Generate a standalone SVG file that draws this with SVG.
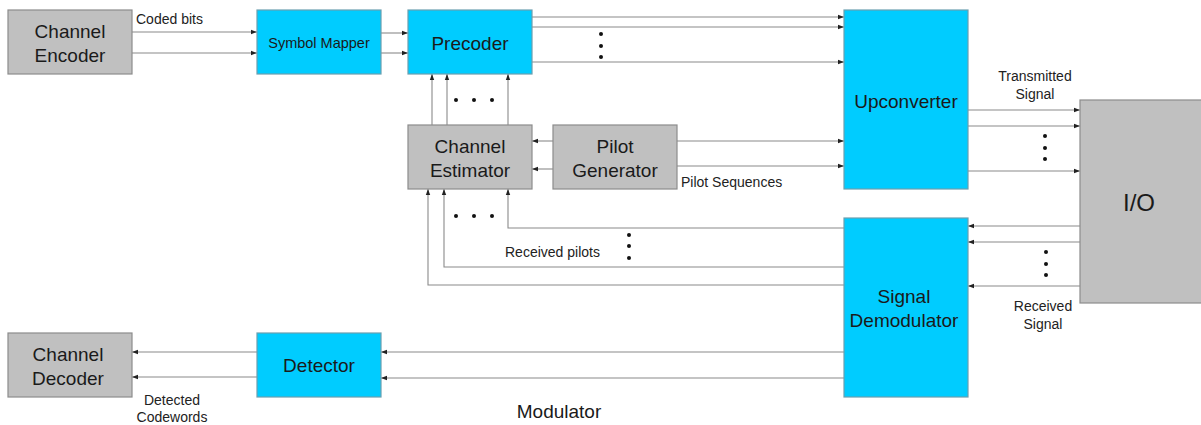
<svg xmlns="http://www.w3.org/2000/svg" width="1201" height="425" viewBox="0 0 1201 425">
<defs>
<marker id="ah" viewBox="0 0 6 6" refX="6" refY="3" markerWidth="6" markerHeight="6" markerUnits="userSpaceOnUse" orient="auto">
<path d="M0,0.8 L6,3 L0,5.2 Z" fill="#222"/>
</marker>
</defs>
<style>
.g{fill:#c0c0c0;stroke:#8c8c8c;stroke-width:1.2}
.c{fill:#00ccff;stroke:#6a9fb0;stroke-width:1.2}
.t{font-family:"Liberation Sans",Arial,sans-serif;fill:#1a1a1a;text-anchor:middle}
.big{font-size:19px}
.lab{font-family:"Liberation Sans",Arial,sans-serif;fill:#222;font-size:14px}
.ln{fill:none;stroke:#8a8a8a;stroke-width:1.1;marker-end:url(#ah)}
.d{fill:#111}
</style>
<rect width="1201" height="425" fill="#fff"/>
<g id="connectors">
<path class="ln" d="M132,32 H257"/>
<path class="ln" d="M132,53 H257"/>
<path class="ln" d="M381,33 H408"/>
<path class="ln" d="M381,53 H408"/>
<path class="ln" d="M532,17 H844"/>
<path class="ln" d="M532,27 H844"/>
<path class="ln" d="M532,62 H844"/>
<path class="ln" d="M432,125 V74"/>
<path class="ln" d="M447,125 V74"/>
<path class="ln" d="M508,125 V74"/>
<path class="ln" d="M553,141 H532"/>
<path class="ln" d="M553,169 H532"/>
<path class="ln" d="M677,141 H844"/>
<path class="ln" d="M677,166 H844"/>
<path class="ln" d="M968,110 H1080"/>
<path class="ln" d="M968,126 H1080"/>
<path class="ln" d="M968,171 H1080"/>
<path class="ln" d="M1080,226 H968"/>
<path class="ln" d="M1080,242 H968"/>
<path class="ln" d="M1080,286 H968"/>
<path class="ln" d="M844,228 H508 V189"/>
<path class="ln" d="M844,267 H444 V189"/>
<path class="ln" d="M844,285 H428 V189"/>
<path class="ln" d="M844,352 H381"/>
<path class="ln" d="M844,378 H381"/>
<path class="ln" d="M257,352 H132"/>
<path class="ln" d="M257,377 H132"/>
<g id="dots">
<circle class="d" cx="601" cy="34" r="2"/><circle class="d" cx="601" cy="46" r="2"/><circle class="d" cx="601" cy="57" r="2"/>
<circle class="d" cx="456" cy="100" r="2"/><circle class="d" cx="474" cy="100" r="2"/><circle class="d" cx="492" cy="100" r="2"/>
<circle class="d" cx="456" cy="216" r="2"/><circle class="d" cx="474" cy="216" r="2"/><circle class="d" cx="492" cy="216" r="2"/>
<circle class="d" cx="629" cy="235" r="2"/><circle class="d" cx="629" cy="246" r="2"/><circle class="d" cx="629" cy="258" r="2"/>
<circle class="d" cx="1045" cy="136" r="2"/><circle class="d" cx="1045" cy="148" r="2"/><circle class="d" cx="1045" cy="159" r="2"/>
<circle class="d" cx="1046" cy="252" r="2"/><circle class="d" cx="1046" cy="264" r="2"/><circle class="d" cx="1046" cy="275" r="2"/>
</g>
</g>
<g id="channel-encoder"><rect class="g" x="8" y="10" width="124" height="64"/><text class="t big" x="70" y="38">Channel</text><text class="t big" x="70" y="62">Encoder</text></g>
<g id="symbol-mapper"><rect class="c" x="257" y="10" width="124" height="64"/><text class="t" x="319" y="48" font-size="14.5">Symbol Mapper</text></g>
<g id="precoder"><rect class="c" x="408" y="10" width="124" height="64"/><text class="t big" x="470" y="50">Precoder</text></g>
<g id="upconverter"><rect class="c" x="844" y="10" width="124" height="179"/><text class="t big" x="906" y="108">Upconverter</text></g>
<g id="channel-estimator"><rect class="g" x="408" y="125" width="124" height="64"/><text class="t big" x="470" y="153">Channel</text><text class="t big" x="470" y="177">Estimator</text></g>
<g id="pilot-generator"><rect class="g" x="553" y="125" width="124" height="64"/><text class="t big" x="615" y="153">Pilot</text><text class="t big" x="615" y="177">Generator</text></g>
<g id="io"><rect class="g" x="1080" y="100" width="122" height="203"/><text class="t" x="1139" y="211" font-size="24">I/O</text></g>
<g id="signal-demodulator"><rect class="c" x="844" y="218" width="124" height="179"/><text class="t big" x="904" y="303">Signal</text><text class="t big" x="904" y="327">Demodulator</text></g>
<g id="detector"><rect class="c" x="257" y="333" width="124" height="64"/><text class="t big" x="319" y="372">Detector</text></g>
<g id="channel-decoder"><rect class="g" x="8" y="333" width="124" height="64"/><text class="t big" x="68" y="361">Channel</text><text class="t big" x="68" y="385">Decoder</text></g>
<g id="labels">
<text class="lab" x="136" y="24">Coded bits</text>
<text class="lab" x="681" y="187">Pilot Sequences</text>
<text class="lab" x="1035" y="81" text-anchor="middle">Transmitted</text>
<text class="lab" x="1035" y="99" text-anchor="middle">Signal</text>
<text class="lab" x="1043" y="311" text-anchor="middle">Received</text>
<text class="lab" x="1043" y="329" text-anchor="middle">Signal</text>
<text class="lab" x="505" y="257">Received pilots</text>
<text class="lab" x="172" y="405" text-anchor="middle">Detected</text>
<text class="lab" x="172" y="422" text-anchor="middle">Codewords</text>
<text class="t" x="559" y="418" font-size="19">Modulator</text>
</g>
</svg>
